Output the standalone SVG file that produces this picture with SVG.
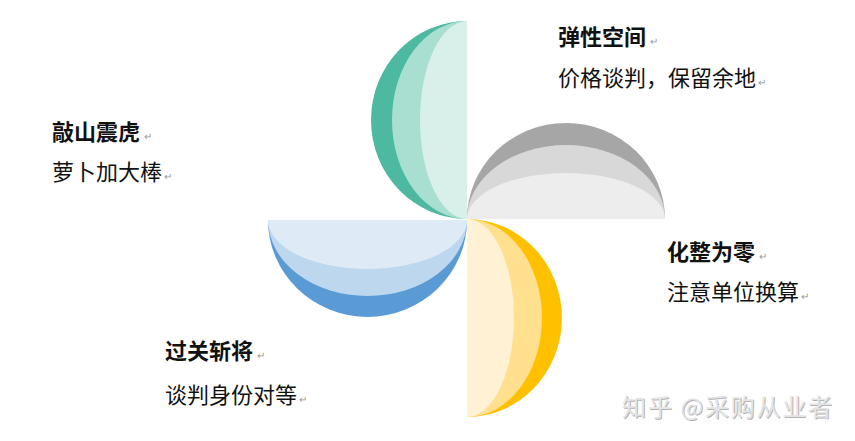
<svg xmlns="http://www.w3.org/2000/svg" width="855" height="441" viewBox="0 0 855 441">
<style>
.t{font-family:"Noto Sans CJK SC","Noto Sans",sans-serif;font-size:22px;fill:#111}
.b{font-weight:bold}
.r{font-size:10px;fill:#999;font-weight:normal}
.wm{font-family:"Noto Sans CJK SC","Noto Sans",sans-serif;font-size:24px}
</style>
<rect width="855" height="441" fill="#fff"/>
<g id="petal-teal">
<path d="M467,21 A96,99 0 0 0 467,219 Z" fill="#4db9a0"/>
<path d="M467,21 A75,99 0 0 0 467,219 Z" fill="#a9dfd1"/>
<path d="M467,21 A47,99 0 0 0 467,219 Z" fill="#d9f0ea"/>
</g>
<g id="petal-gray">
<path d="M467,219 A99,96 0 0 1 665,219 Z" fill="#a6a6a6"/>
<path d="M467,219 A99,74 0 0 1 665,219 Z" fill="#d8d8d8"/>
<path d="M467,219 A99,46 0 0 1 665,219 Z" fill="#ededed"/>
</g>
<g id="petal-yellow">
<path d="M467,219 A95,99 0 0 1 467,417 Z" fill="#ffc000"/>
<path d="M467,219 A75,99 0 0 1 467,417 Z" fill="#ffe08f"/>
<path d="M467,219 A47,99 0 0 1 467,417 Z" fill="#fff1d3"/>
</g>
<g id="petal-blue">
<path d="M268,220 A99.5,97 0 0 0 467,220 Z" fill="#5b9bd5"/>
<path d="M268,220 A99.5,76 0 0 0 467,220 Z" fill="#bdd7ee"/>
<path d="M268,220 A99.5,49 0 0 0 467,220 Z" fill="#deebf7"/>
</g>
<g id="label-top-right">
<text class="t b" x="558" y="45">弹性空间<tspan class="r" dx="4">↵</tspan></text>
<text class="t" x="558" y="86">价格谈判，保留余地<tspan class="r" dx="2">↵</tspan></text>
</g>
<g id="label-left">
<text class="t b" x="52" y="140">敲山震虎<tspan class="r" dx="4">↵</tspan></text>
<text class="t" x="52" y="180">萝卜加大棒<tspan class="r" dx="2">↵</tspan></text>
</g>
<g id="label-right">
<text class="t b" x="667" y="260">化整为零<tspan class="r" dx="4">↵</tspan></text>
<text class="t" x="667" y="300">注意单位换算<tspan class="r" dx="2">↵</tspan></text>
</g>
<g id="label-bottom-left">
<text class="t b" x="165" y="359">过关斩将<tspan class="r" dx="4">↵</tspan></text>
<text class="t" x="165" y="403">谈判身份对等<tspan class="r" dx="2">↵</tspan></text>
</g>
<g id="watermark">
<text class="wm" x="623" y="417" fill="#b4b4b4" textLength="210" lengthAdjust="spacing">知乎 @采购从业者</text>
<text class="wm" x="622" y="416" fill="#e4e4e4" textLength="210" lengthAdjust="spacing">知乎 @采购从业者</text>
</g>
</svg>
